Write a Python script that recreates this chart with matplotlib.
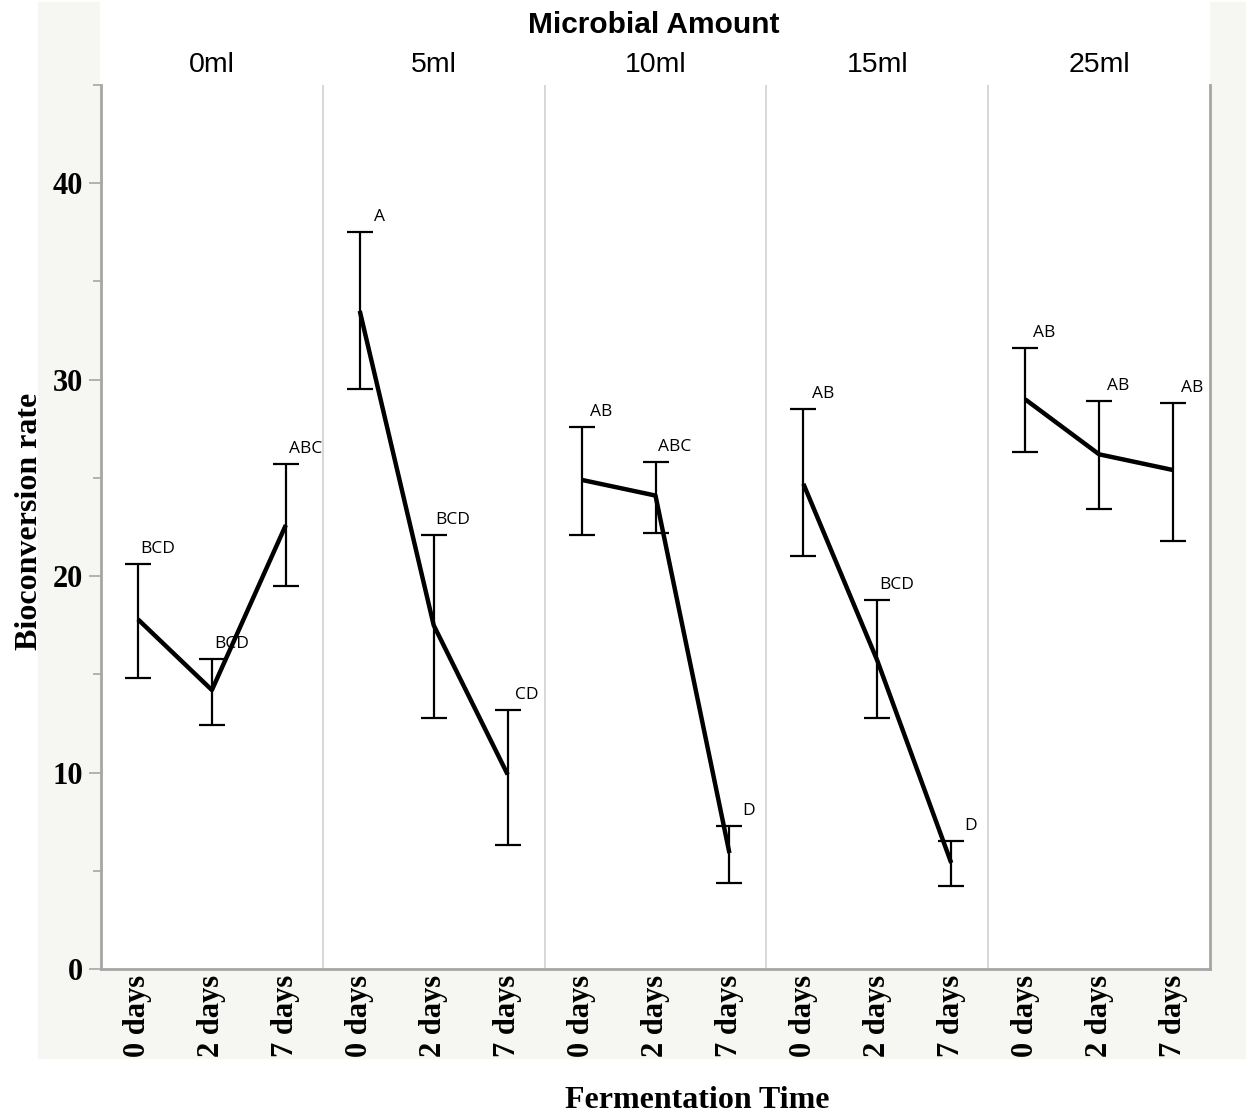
import numpy as np
import matplotlib
matplotlib.use('Agg')
import matplotlib.pyplot as plt
from matplotlib.patches import Rectangle

# values
amounts = ['0ml', '5ml', '10ml', '15ml', '25ml']
times = ['0 days', '2 days', '7 days']
means = [[17.8, 14.2, 22.6],
         [33.5, 17.5, 9.9],
         [24.9, 24.1, 5.9],
         [24.7, 15.7, 5.4],
         [29.0, 26.2, 25.4]]
upper = [[20.6, 15.8, 25.7],
         [37.5, 22.1, 13.2],
         [27.6, 25.8, 7.3],
         [28.5, 18.8, 6.5],
         [31.6, 28.9, 28.8]]
lower = [[14.8, 12.4, 19.5],
         [29.5, 12.8, 6.3],
         [22.1, 22.2, 4.4],
         [21.0, 12.8, 4.2],
         [26.3, 23.4, 21.8]]
letters = [['BCD', 'BCD', 'ABC'],
           ['A', 'BCD', 'CD'],
           ['AB', 'ABC', 'D'],
           ['AB', 'BCD', 'D'],
           ['AB', 'AB', 'AB']]

W, H = 1246, 1116
fig = plt.figure(figsize=(W/100, H/100), dpi=100)
bg = '#f6f6f2'
grey = '#a6a6a6'
serif = 'Liberation Serif'
sans = 'Liberation Sans'

# light frame behind the plot, white header strip
fig.patches.append(Rectangle((38/W, 1-1058/H), (W-38)/W, (1058-2)/H,
                             transform=fig.transFigure, color=bg, zorder=-2))
fig.patches.append(Rectangle((100/W, 1-85/H), (1209-100)/W, 83/H,
                             transform=fig.transFigure, color='white', zorder=-1))

ax = fig.add_axes([101/W, 1-969/H, (1210-101)/W, (969-85)/H])
ax.set_facecolor('white')

n = len(times)
for i, amt in enumerate(amounts):
    x = np.arange(n) + i*n
    m = np.array(means[i])
    up = np.array(upper[i]) - m
    lo = m - np.array(lower[i])
    ax.errorbar(x, m, yerr=[lo, up], fmt='none', ecolor='black',
                elinewidth=1.6, capsize=9.5, capthick=1.6, zorder=3)
    ax.plot(x, m, color='black', lw=3.2, zorder=4, solid_capstyle='butt')
    for j in range(n):
        ax.annotate(letters[i][j], (x[j], upper[i][j]), xytext=(14, 5),
                    textcoords='offset points', ha='center', va='bottom',
                    fontsize=12.5, family='Open Sans', zorder=5)
    if i > 0:
        ax.axvline(i*n - 0.5, color='#d4d4d4', lw=1.3, zorder=1)
    fig.text((101 + (i + 0.5)*(1210-101)/len(amounts))/W, 1-65/H, amt,
             ha='center', va='center', fontsize=20.5, family=sans)

ax.set_xlim(-0.5, len(amounts)*n - 0.5)
ax.set_ylim(0, 45)
ax.set_xticks(np.arange(len(amounts)*n))
ax.set_xticklabels(times*len(amounts), rotation=90, fontsize=22,
                   family=serif, fontweight='bold')
ax.tick_params(axis='x', length=0, pad=4)
ax.set_yticks([0, 10, 20, 30, 40])
ax.set_yticks([5, 15, 25, 35, 45], minor=True)
ax.tick_params(axis='y', which='major', length=9, width=1.2, color=grey,
               labelsize=22, pad=4)
ax.tick_params(axis='y', which='minor', length=6, width=1.2, color=grey)
for lab in ax.get_yticklabels():
    lab.set_family(serif)
    lab.set_fontweight('bold')

for s in ['left', 'bottom', 'right']:
    ax.spines[s].set_color(grey)
    ax.spines[s].set_linewidth(2)
ax.spines['top'].set_visible(False)

fig.text(654/W, 1-25/H, 'Microbial Amount', ha='center', va='center',
         fontsize=21.5, family=sans, fontweight='bold')
fig.text(30/W, 1-521/H, 'Bioconversion rate', rotation=90, ha='center',
         va='center', fontsize=23, family=serif, fontweight='bold')
fig.text(697/W, 1-1100/H, 'Fermentation Time', ha='center', va='center',
         fontsize=23, family=serif, fontweight='bold')

fig.savefig('out.png', dpi=100)
